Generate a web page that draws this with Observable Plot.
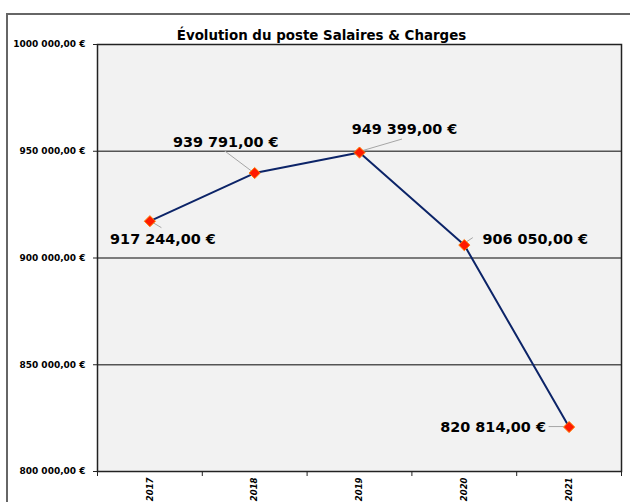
<!DOCTYPE html>
<html>
<head>
<meta charset="utf-8">
<script src="https://cdn.jsdelivr.net/npm/d3@7"></script>
<script src="https://cdn.jsdelivr.net/npm/@observablehq/plot@0.6"></script>
<style>
  html, body { margin: 0; padding: 0; background: #fff; overflow: hidden; }
  #wrap { position: relative; width: 630px; height: 502px; overflow: hidden; background: #fff; }
  #chart { position: absolute; left: 0; top: 0; z-index: 1; }
  #border { position: absolute; left: 6px; top: 13px; width: 700px; height: 600px; border: 2px solid #666; box-sizing: border-box; z-index: 2; pointer-events: none; }
</style>
</head>
<body>
<div id="wrap"><div id="chart"></div><div id="border"></div></div>
<script>
const title = "Évolution du poste Salaires & Charges";
const years = [2017, 2018, 2019, 2020, 2021];
const yearLabels = ["2017", "2018", "2019", "2020", "2021"];
const values = [917244, 939791, 949399, 906050, 820814];
const valueLabels = ["917 244,00 €", "939 791,00 €", "949 399,00 €", "906 050,00 €", "820 814,00 €"];
const yTicks = [800000, 850000, 900000, 950000, 1000000];
const yTickLabels = ["800 000,00 €", "850 000,00 €", "900 000,00 €", "950 000,00 €", "1000 000,00 €"];
const gridValues = [850000, 900000, 950000];

// layout: pixel offsets of each data label (center) and its leader line, relative to the point
const labelOffsets = [[13, 18], [-29, -31], [45, -23], [71, -6], [-76, 0]];
const leaderOffsets = [[[2, 1], [12, 7]], [[-30, -22], [-2, -1]], [[2, -1], [43, -13]], [[3, -3], [9, -7]], [[-20, 0], [-5, 0]]];

const data = years.map((year, i) => ({year, value: values[i], label: valueLabels[i], yearLabel: yearLabels[i]}));

const FONT = "DejaVu Sans, Verdana, sans-serif";

const leaders = (index, scales) => {
  const g = d3.create("svg:g").attr("stroke", "#a6a6a6").attr("stroke-width", 1);
  data.forEach((d, i) => {
    const px = scales.x(d.year), py = scales.y(d.value);
    const [[x1, y1], [x2, y2]] = leaderOffsets[i];
    g.append("line").attr("x1", px + x1).attr("y1", py + y1).attr("x2", px + x2).attr("y2", py + y2);
  });
  return g.node();
};

const chart = Plot.plot({
  width: 630,
  height: 502,
  marginLeft: 97,
  marginRight: 9,
  marginTop: 44,
  marginBottom: 31,
  style: {fontFamily: FONT, background: "transparent", overflow: "visible"},
  x: {domain: [2016.5, 2021.5], axis: null},
  y: {domain: [800000, 1000000], axis: null},
  marks: [
    Plot.frame({fill: "#f2f2f2"}),
    Plot.ruleY(gridValues, {stroke: "#555", strokeWidth: 1.3}),
    Plot.frame({stroke: "#222", strokeWidth: 1.5}),
    Plot.axisY(yTicks, {
      label: null, tickSize: 4, tickPadding: 8, stroke: "#222",
      tickFormat: d => yTickLabels[yTicks.indexOf(d)],
      fontWeight: "bold", fontSize: 9, fill: "#000"
    }),
    Plot.axisX([2016.5, 2017.5, 2018.5, 2019.5, 2020.5, 2021.5], {
      label: null, tickSize: 5, stroke: "#222", tickFormat: () => ""
    }),
    Plot.text(data, {
      x: "year", text: "yearLabel", frameAnchor: "bottom", rotate: -90, textAnchor: "end", lineAnchor: "middle",
      dy: 6, fontWeight: "bold", fontStyle: "italic", fontSize: 8.5, fill: "#000"
    }),
    Plot.text([title], {frameAnchor: "top", dy: -14, dx: -38, fontWeight: "bold", fontSize: 13.4, fill: "#000"}),
    leaders,
    Plot.line(data, {x: "year", y: "value", stroke: "#0c2468", strokeWidth: 2}),
    Plot.dot(data, {x: "year", y: "value", symbol: "diamond2", r: 5, fill: "#ff1a00", stroke: "#ff7a00", strokeWidth: 1}),
    ...data.map((d, i) => Plot.text([d], {
      x: "year", y: "value", text: "label",
      dx: labelOffsets[i][0], dy: labelOffsets[i][1],
      fontWeight: "bold", fontSize: 14.4, fill: "#000"
    }))
  ]
});
document.getElementById("chart").appendChild(chart);
</script>
</body>
</html>
